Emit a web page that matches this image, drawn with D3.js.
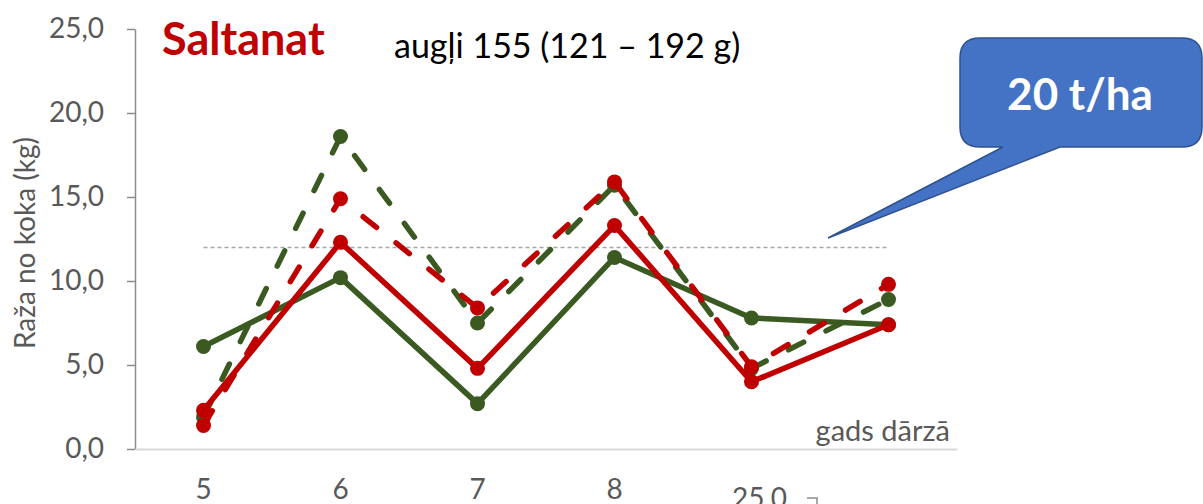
<!DOCTYPE html>
<html>
<head>
<meta charset="utf-8">
<script src="https://cdn.jsdelivr.net/npm/d3@7"></script>
<style>
  html, body { margin: 0; padding: 0; background: #fff; }
  svg { display: block; }
  text { font-family: Lato, "Open Sans", sans-serif; }
</style>
</head>
<body>
<svg id="chart" width="1203" height="504"></svg>
<script>
// ---- data ----
const categories = ["5", "6", "7", "8", "9", "10"];
const tickLabels = ["5", "6", "7", "8", "", ""];
const yTicks = [0, 5, 10, 15, 20, 25];
const greenSolid  = [6.1, 10.2, 2.7, 11.4, 7.8, 7.4];
const redSolid    = [2.3, 12.3, 4.8, 13.3, 4.0, 7.4];
const greenDashed = [1.9, 18.6, 7.5, 15.7, 4.8, 8.9];
const redDashed   = [1.4, 14.9, 8.4, 15.9, 4.9, 9.8];
const targetLevel = 12;
const titleText = "Saltanat";
const subtitleText = "augļi 155 (121 – 192 g)";
const yTitle = "Raža no koka (kg)";
const xTitle = "gads dārzā";
const calloutText = "20 t/ha";

// ---- layout ----
const svg = d3.select("#chart");
const GREEN = "#3a5a22", RED = "#c00000";
const plot = { left: 135, right: 957, top: 29, bottom: 449 };

const x = d3.scaleBand().domain(categories).range([plot.left, plot.right]);
const y = d3.scaleLinear().domain([0, 25]).range([plot.bottom, plot.top]);
const cx = d => x(d) + x.bandwidth() / 2;
const fmt = v => d3.format(".1f")(v).replace(".", ",");

// y axis
const yAxis = svg.append("g")
  .attr("transform", `translate(${plot.left},0)`)
  .call(d3.axisLeft(y).tickValues(yTicks).tickFormat(fmt).tickSize(8).tickSizeOuter(0).tickPadding(23));
yAxis.select(".domain").attr("stroke", "#8c8c8c").attr("stroke-width", 1.5);
yAxis.selectAll(".tick line").attr("stroke", "#8c8c8c").attr("stroke-width", 1.5);
yAxis.selectAll(".tick text").attr("fill", "#595959").style("font-size", "28px")
  .style("font-family", "Lato, sans-serif");

// x axis
const xAxis = svg.append("g")
  .attr("transform", `translate(0,${plot.bottom})`)
  .call(d3.axisBottom(x).tickFormat((d, i) => tickLabels[i]).tickSize(0).tickPadding(30));
xAxis.select(".domain").attr("stroke", "#d9d9d9").attr("stroke-width", 2);
xAxis.selectAll(".tick text").attr("fill", "#595959").style("font-size", "28px")
  .style("font-family", "Lato, sans-serif");

// target reference line
svg.append("line")
  .attr("x1", cx(categories[0])).attr("x2", cx(categories[categories.length - 1]))
  .attr("y1", y(targetLevel)).attr("y2", y(targetLevel))
  .attr("stroke", "#a6a6a6").attr("stroke-width", 1.5).attr("stroke-dasharray", "4,3");

// series
const series = [
  { values: greenSolid,  color: GREEN, dash: null },
  { values: greenDashed, color: GREEN, dash: "17,25" },
  { values: redSolid,    color: RED,   dash: null },
  { values: redDashed,   color: RED,   dash: "17,25" }
];
const line = d3.line().x((d, i) => cx(categories[i])).y(d => y(d));
series.forEach(s => {
  const g = svg.append("g");
  g.append("path").datum(s.values)
    .attr("d", line).attr("fill", "none")
    .attr("stroke", s.color).attr("stroke-width", 5.5)
    .attr("stroke-linecap", "round").attr("stroke-linejoin", "round")
    .attr("stroke-dasharray", s.dash);
  g.selectAll("circle").data(s.values).join("circle")
    .attr("cx", (d, i) => cx(categories[i])).attr("cy", d => y(d))
    .attr("r", 7.5).attr("fill", s.color);
});

// axis titles
svg.append("text").attr("transform", `translate(35,${(plot.top + plot.bottom) / 2 + 4}) rotate(-90)`)
  .attr("text-anchor", "middle").attr("fill", "#595959")
  .style("font-size", "28px").text(yTitle);
svg.append("text").attr("x", 950).attr("y", 441).attr("text-anchor", "end")
  .attr("fill", "#595959").style("font-size", "29px").text(xTitle);

// title + subtitle
svg.append("text").attr("x", 162).attr("y", 55).attr("fill", RED)
  .style("font-size", "45px").style("font-weight", "bold").text(titleText);
svg.append("text").attr("x", 394).attr("y", 58).attr("fill", "#000")
  .style("font-size", "34px").text(subtitleText);

// callout
const L = 960, R = 1202, T = 38, B = 147, r = 20;
const tip = [828, 238], b1 = 1003, b2 = 1060;
const p = d3.path();
p.moveTo(L + r, T);
p.lineTo(R - r, T); p.quadraticCurveTo(R, T, R, T + r);
p.lineTo(R, B - r); p.quadraticCurveTo(R, B, R - r, B);
p.lineTo(b2, B); p.lineTo(tip[0], tip[1]); p.lineTo(b1, B);
p.lineTo(L + r, B); p.quadraticCurveTo(L, B, L, B - r);
p.lineTo(L, T + r); p.quadraticCurveTo(L, T, L + r, T);
p.closePath();
svg.append("path").attr("d", p.toString())
  .attr("fill", "#4472c4").attr("stroke", "#2f528f").attr("stroke-width", 1.5);
svg.append("text").attr("x", 1080).attr("y", 110).attr("text-anchor", "middle")
  .attr("fill", "#fff").style("font-size", "44px").style("font-weight", "bold").text(calloutText);

// fragment of the next chart below (clipped)
svg.append("text").attr("x", 732).attr("y", 508).attr("fill", "#595959")
  .style("font-size", "28px").text(fmt(25));
svg.append("path").attr("d", "M807,498H817V510").attr("fill", "none")
  .attr("stroke", "#8c8c8c").attr("stroke-width", 1.5);
</script>
</body>
</html>
